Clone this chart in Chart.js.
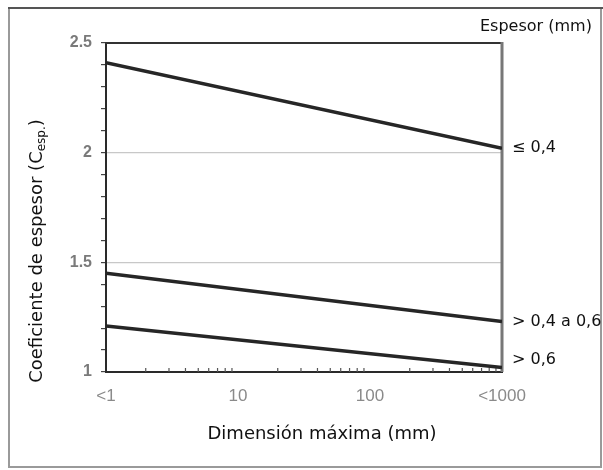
<!DOCTYPE html>
<html>
<head>
<meta charset="utf-8">
<title>Coeficiente de espesor</title>
<script src="https://cdn.jsdelivr.net/npm/chart.js@4/dist/chart.umd.min.js"></script>
<style>
  html, body { margin: 0; padding: 0; background: #fff; }
  #wrap { width: 603px; height: 470px; position: relative; }
</style>
</head>
<body>
<div id="wrap"><canvas id="chart" width="603" height="470"></canvas></div>
<script>
// Dimensión máxima (mm), end points of each thickness line
const xValues = [1, 1000];
// Coeficiente de espesor for each thickness class
const serieHasta04 = [2.41, 2.02];
const serie04a06 = [1.45, 1.23];
const serieMas06 = [1.21, 1.02];
const seriesLabels = ['\u2264 0,4', '> 0,4 a 0,6', '> 0,6'];

// Axis ticks
const xTicks = [1, 10, 100, 1000];
const xTickLabels = ['<1', '10', '100', '<1000'];
const yTicks = [1, 1.5, 2, 2.5];

const TEXT_FONT = '"DejaVu Sans", Tahoma, Verdana, sans-serif';
const LINE_COLOR = '#262626';

const pts = arr => arr.map((y, i) => ({ x: xValues[i], y }));
const isMajorY = v => yTicks.some(t => Math.abs(t - v) < 1e-6);

const decorations = {
  id: 'decorations',
  beforeDraw(chart) {
    const ctx = chart.ctx;
    ctx.save();
    ctx.fillStyle = '#ffffff';
    ctx.fillRect(0, 0, chart.width, chart.height);
    // outer frame
    ctx.lineWidth = 2;
    ctx.strokeStyle = '#9a9a9a';
    ctx.strokeRect(9, 8, 592, 459);
    ctx.strokeStyle = '#555';
    ctx.beginPath();
    ctx.moveTo(8, 8);
    ctx.lineTo(603, 8);
    ctx.stroke();
    ctx.restore();
  },
  beforeDatasetsDraw(chart) {
    const { ctx, chartArea: a, scales } = chart;
    ctx.save();
    // top and right edges of the plot box
    ctx.strokeStyle = '#333';
    ctx.lineWidth = 2;
    ctx.beginPath();
    ctx.moveTo(a.left - 1, a.top);
    ctx.lineTo(a.right, a.top);
    ctx.stroke();
    ctx.strokeStyle = '#777';
    ctx.lineWidth = 3;
    ctx.beginPath();
    ctx.moveTo(a.right, a.top - 1);
    ctx.lineTo(a.right, a.bottom);
    ctx.stroke();
    // logarithmic minor ticks, pointing into the plot
    const x = scales.x;
    ctx.strokeStyle = '#555';
    ctx.lineWidth = 1.2;
    for (let d = 1; d < 1000; d *= 10) {
      for (let m = 2; m <= 9; m++) {
        const px = x.getPixelForValue(d * m);
        ctx.beginPath();
        ctx.moveTo(px, a.bottom);
        ctx.lineTo(px, a.bottom - 4);
        ctx.stroke();
      }
    }
    ctx.restore();
  },
  afterDraw(chart) {
    const { ctx, chartArea: a, scales } = chart;
    const y = scales.y;
    ctx.save();
    ctx.fillStyle = '#111';
    ctx.textBaseline = 'middle';
    ctx.textAlign = 'left';
    ctx.font = '16px ' + TEXT_FONT;
    // legend heading and line labels to the right of the plot
    ctx.fillText('Espesor (mm)', 480, 27);
    const lastValues = [serieHasta04, serie04a06, serieMas06].map(s => s[s.length - 1]);
    lastValues.forEach((v, i) => {
      const py = Math.min(y.getPixelForValue(v), a.bottom - 12);
      ctx.fillText(seriesLabels[i], a.right + 10, py);
    });
    // x axis title
    ctx.font = '18px ' + TEXT_FONT;
    ctx.textAlign = 'center';
    ctx.fillText('Dimensión máxima (mm)', 322, 434);
    // y axis title with subscript
    ctx.translate(37, 251);
    ctx.rotate(-Math.PI / 2);
    const main = 'Coeficiente de espesor (C';
    const sub = 'esp.';
    const close = ')';
    ctx.font = '18px ' + TEXT_FONT;
    const wMain = ctx.measureText(main).width;
    const wClose = ctx.measureText(close).width;
    ctx.font = '12px ' + TEXT_FONT;
    const wSub = ctx.measureText(sub).width;
    const total = wMain + wSub + wClose;
    let cx = -total / 2;
    ctx.textAlign = 'left';
    ctx.font = '18px ' + TEXT_FONT;
    ctx.fillText(main, cx, 0);
    cx += wMain;
    ctx.font = '12px ' + TEXT_FONT;
    ctx.fillText(sub, cx, 5);
    cx += wSub;
    ctx.font = '18px ' + TEXT_FONT;
    ctx.fillText(close, cx, 0);
    ctx.restore();
  }
};

const lineStyle = {
  borderColor: LINE_COLOR,
  borderWidth: 3.5,
  pointRadius: 0,
  tension: 0,
  fill: false
};

new Chart(document.getElementById('chart'), {
  type: 'line',
  data: {
    datasets: [
      Object.assign({ label: seriesLabels[0], data: pts(serieHasta04) }, lineStyle),
      Object.assign({ label: seriesLabels[1], data: pts(serie04a06) }, lineStyle),
      Object.assign({ label: seriesLabels[2], data: pts(serieMas06) }, lineStyle)
    ]
  },
  options: {
    responsive: false,
    animation: false,
    devicePixelRatio: 1,
    layout: { padding: { left: 0, right: 101, top: 43, bottom: 0 } },
    plugins: { legend: { display: false }, tooltip: { enabled: false } },
    scales: {
      x: {
        type: 'logarithmic',
        min: 1,
        max: 1000,
        afterBuildTicks(scale) {
          scale.ticks = xTicks.map(v => ({ value: v, major: true }));
        },
        afterFit(scale) { scale.height = 98; },
        grid: { display: true, drawOnChartArea: false, drawTicks: false },
        border: { color: '#2a2a2a', width: 2 },
        ticks: {
          autoSkip: false,
          maxRotation: 0,
          padding: 14,
          color: '#8a8a8a',
          font: { family: 'Arial, "Liberation Sans", sans-serif', size: 17 },
          callback: (v, i) => xTickLabels[i]
        }
      },
      y: {
        type: 'linear',
        min: 1,
        max: 2.5,
        afterFit(scale) { scale.width = 106; },
        grid: {
          drawTicks: true,
          tickLength: 5,
          tickWidth: 1.2,
          tickColor: '#444',
          color: ctx => {
            const v = ctx.tick ? ctx.tick.value : 0;
            return (Math.abs(v - 1.5) < 1e-6 || Math.abs(v - 2) < 1e-6) ? '#c8c8c8' : 'rgba(0,0,0,0)';
          },
          lineWidth: 1.2
        },
        border: { color: '#2a2a2a', width: 2 },
        ticks: {
          stepSize: 0.1,
          autoSkip: false,
          padding: 9,
          color: '#7a7a7a',
          font: { family: 'Arial, "Liberation Sans", sans-serif', size: 16, weight: 'bold' },
          callback: v => isMajorY(v) ? String(Math.round(v * 10) / 10) : ''
        }
      }
    }
  },
  plugins: [decorations]
});
</script>
</body>
</html>
